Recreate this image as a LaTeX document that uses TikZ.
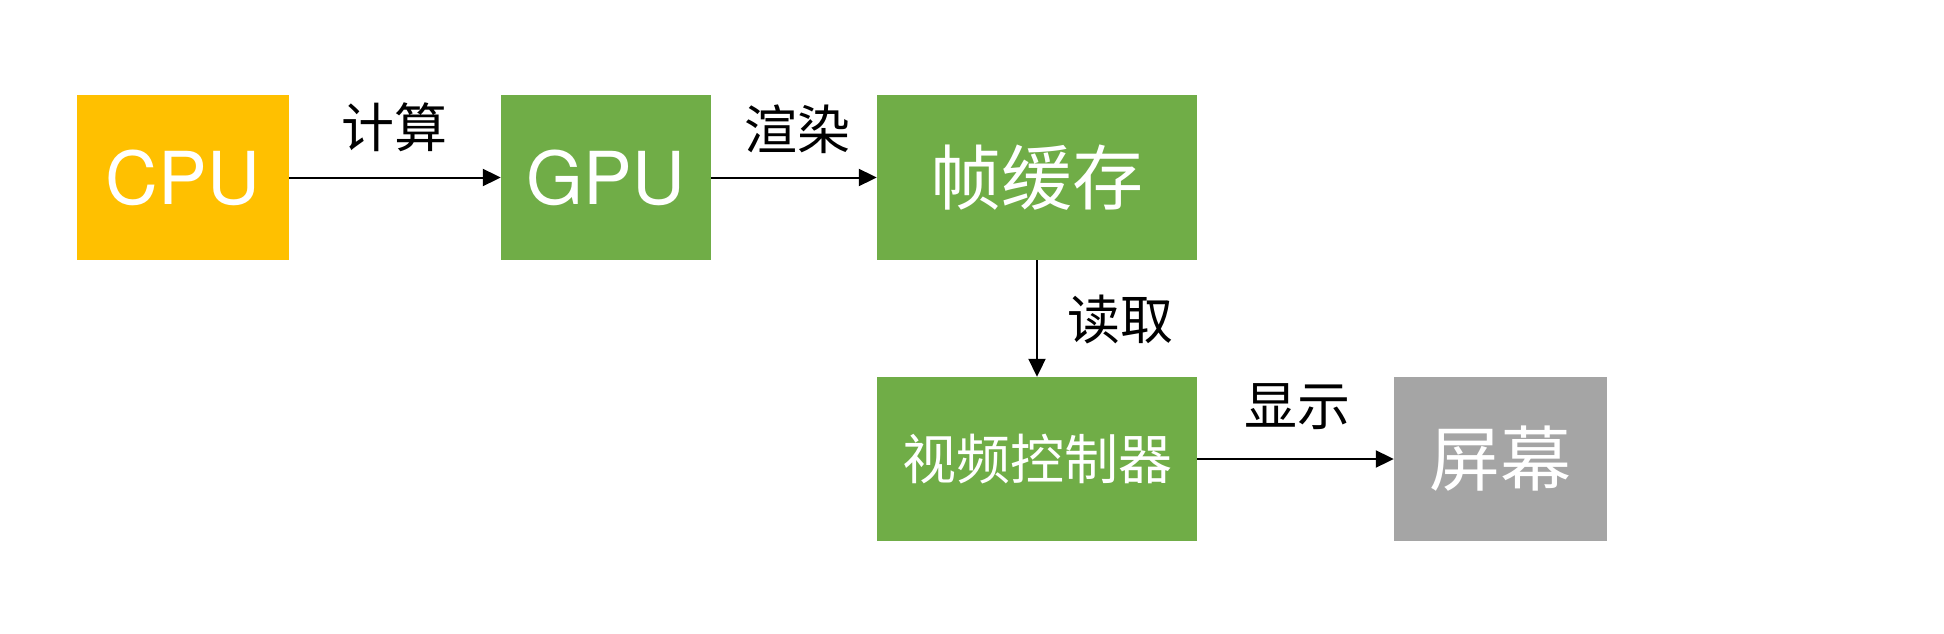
\documentclass[tikz,border=0pt]{standalone}
\usepackage{fontspec}
\setmainfont{TeX Gyre Heros}
\newfontfamily\cjk{Noto Sans CJK SC}
\usetikzlibrary{arrows.meta}
\definecolor{cpuorange}{HTML}{FFC000}
\definecolor{gpugreen}{HTML}{70AD47}
\definecolor{scrgray}{HTML}{A5A5A5}
\begin{document}
\begin{tikzpicture}[x=1pt,y=-1pt,
  box/.style={draw=none,inner sep=0pt,minimum height=165pt,text=white},
  latinlbl/.style={font=\fontsize{73}{80}\selectfont},
  cjkbig/.style={font=\cjk\fontsize{71}{80}\selectfont},
  cjkmid/.style={font=\cjk\fontsize{54}{60}\selectfont},
  edgelbl/.style={font=\cjk\fontsize{53}{60}\selectfont,text=black,inner sep=0pt},
  arr/.style={line width=2pt,-{Triangle[length=18pt,width=17pt]}}]
\useasboundingbox (0,0) rectangle (1944,634);
\node[box,fill=cpuorange,minimum width=212pt,latinlbl] (cpu) at (183,177.5) {CPU};
\node[box,fill=gpugreen,minimum width=210pt,latinlbl] (gpu) at (606,177.5) {GPU};
\node[box,fill=gpugreen,minimum width=320pt,cjkbig] (fb) at (1037,177.5) {帧缓存};
\node[box,fill=gpugreen,minimum width=320pt,minimum height=164pt,cjkmid] (vc) at (1037,459) {视频控制器};
\node[box,fill=scrgray,minimum width=213pt,minimum height=164pt,cjkbig] (scr) at (1500.5,459) {屏幕};
\draw[arr] (cpu) -- (gpu);
\draw[arr] (gpu) -- (fb);
\draw[arr] (fb) -- (vc);
\draw[arr] (vc) -- (scr);
\node[edgelbl] (l1) at (394,127) {计算};
\node[edgelbl] (l2) at (797,129) {渲染};
\node[edgelbl] (l3) at (1120,319) {读取};
\node[edgelbl] (l4) at (1297,407) {显示};
\end{tikzpicture}
\end{document}
